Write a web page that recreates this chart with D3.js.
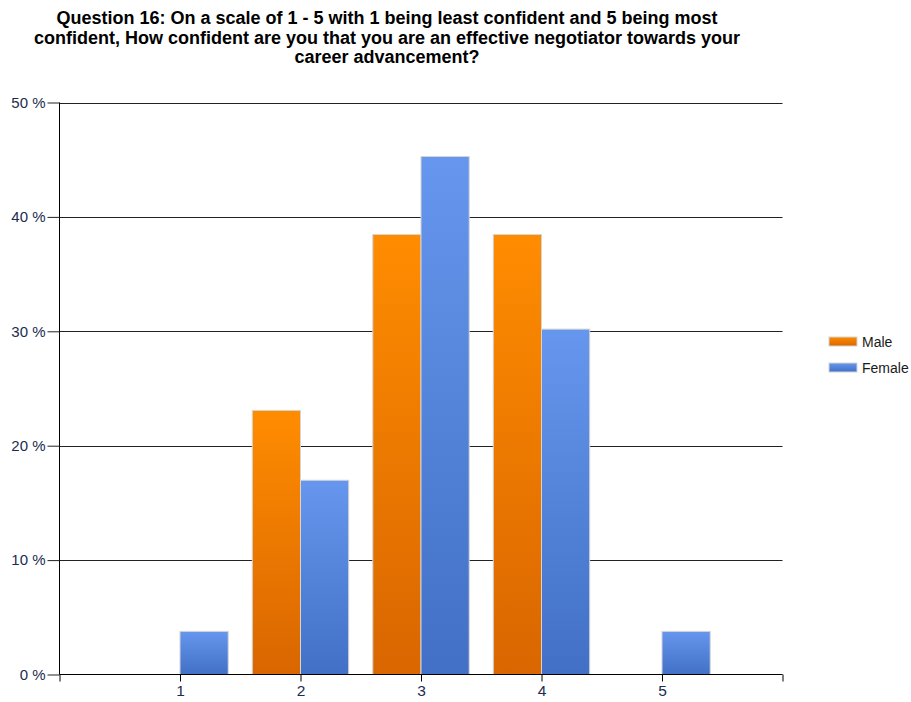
<!DOCTYPE html>
<html><head><meta charset="utf-8">
<script src="https://cdn.jsdelivr.net/npm/d3@7"></script>
<style>body{margin:0;background:#fff}</style>
</head><body>
<svg id="c" width="911" height="702"></svg>
<script>
const titleLines = ["Question 16: On a scale of 1 - 5 with 1 being least confident and 5 being most",
  "confident, How confident are you that you are an effective negotiator towards your",
  "career advancement?"];
const categories = [1, 2, 3, 4, 5];
const male = [0, 23.08, 38.46, 38.46, 0];
const female = [3.77, 16.98, 45.28, 30.19, 3.77];
const yTicks = [0, 10, 20, 30, 40, 50];
const seriesNames = ["Male", "Female"];

(function () {
const svg = d3.select("#c");
const pl = 59.5, pr = 782.5, pt = 102.5, pb = 674.5;
const x = d3.scaleLinear().domain([0, 6]).range([pl, pr]);
const y = d3.scaleLinear().domain([0, 50]).range([pb, pt]);
const bw = (x(1) - x(0)) * 0.4;
const ff = "Liberation Sans, Arial, sans-serif";

const defs = svg.append("defs");
function grad(id, c1, c2) {
  const g = defs.append("linearGradient").attr("id", id).attr("x1", 0).attr("y1", 0).attr("x2", 0).attr("y2", 1);
  g.append("stop").attr("offset", "0%").attr("stop-color", c1);
  g.append("stop").attr("offset", "100%").attr("stop-color", c2);
}
grad("gm", "#ff8c00", "#d96600");
grad("gf", "#6696ed", "#4170c6");

// title
svg.append("text").attr("x", 387).attr("y", 24).attr("text-anchor", "middle")
  .attr("font-family", ff).attr("font-weight", "bold").attr("font-size", 18).attr("fill", "#000")
  .selectAll("tspan").data(titleLines).join("tspan").attr("x", 387).attr("dy", (d, i) => i ? 19.5 : 0).text(d => d);

// gridlines
svg.append("g").selectAll("line").data(yTicks.filter(d => d > 0)).join("line")
  .attr("x1", pl).attr("x2", pr).attr("y1", d => Math.round(y(d)) + 0.5).attr("y2", d => Math.round(y(d)) + 0.5)
  .attr("stroke", "#222").attr("stroke-width", 1);

// bars
const g = svg.append("g");
g.selectAll("rect.m").data(categories).join("rect").attr("class", "m")
  .attr("x", d => x(d) - bw).attr("width", bw)
  .attr("y", (d, i) => y(male[i])).attr("height", (d, i) => y(0) - y(male[i]))
  .attr("fill", "url(#gm)").attr("stroke", "#d4d4d4").attr("stroke-width", 1)
  .style("display", (d, i) => male[i] > 0 ? null : "none");
g.selectAll("rect.f").data(categories).join("rect").attr("class", "f")
  .attr("x", d => x(d)).attr("width", bw)
  .attr("y", (d, i) => y(female[i])).attr("height", (d, i) => y(0) - y(female[i]))
  .attr("fill", "url(#gf)").attr("stroke", "#d4d4d4").attr("stroke-width", 1)
  .style("display", (d, i) => female[i] > 0 ? null : "none");

// y axis
const yAxis = d3.axisLeft(y).tickValues(yTicks).tickFormat(d => d + " %").tickSize(12).tickPadding(2);
const ya = svg.append("g").attr("transform", `translate(${pl},0)`).call(yAxis);
ya.attr("font-size", null).attr("font-family", null);
ya.select(".domain").attr("stroke", "#000").attr("d", `M0,${pt}V${pb}`);
ya.selectAll(".tick line").attr("stroke", "#222");
ya.selectAll("text").attr("font-family", ff).attr("font-size", 15).attr("fill", "#1c2c50");

// x axis
const xAxis = d3.axisBottom(x).tickValues([0, 1, 2, 3, 4, 5, 6]).tickFormat(d => (d >= 1 && d <= 5) ? String(d) : "").tickSize(7).tickPadding(3);
const xa = svg.append("g").attr("transform", `translate(0,${pb})`).call(xAxis);
xa.attr("font-size", null).attr("font-family", null);
xa.select(".domain").attr("stroke", "#000").attr("d", `M${pl},0H${pr}`);
xa.selectAll(".tick line").attr("stroke", "#000");
xa.selectAll("text").attr("font-family", ff).attr("font-size", 15.5).attr("fill", "#1c2c50");

// legend
const lg = svg.append("g").attr("transform", "translate(829,337)");
const li = lg.selectAll("g").data(seriesNames).join("g").attr("transform", (d, i) => `translate(0,${i * 26})`);
li.append("rect").attr("width", 28).attr("height", 9).attr("fill", (d, i) => i ? "url(#gf)" : "url(#gm)")
  .attr("stroke", "#d4d4d4").attr("stroke-width", 1);
li.append("text").attr("x", 33).attr("y", 10).attr("font-family", ff).attr("font-size", 14).attr("fill", "#1a1a1a").text(d => d);
})();
</script>
</body></html>
